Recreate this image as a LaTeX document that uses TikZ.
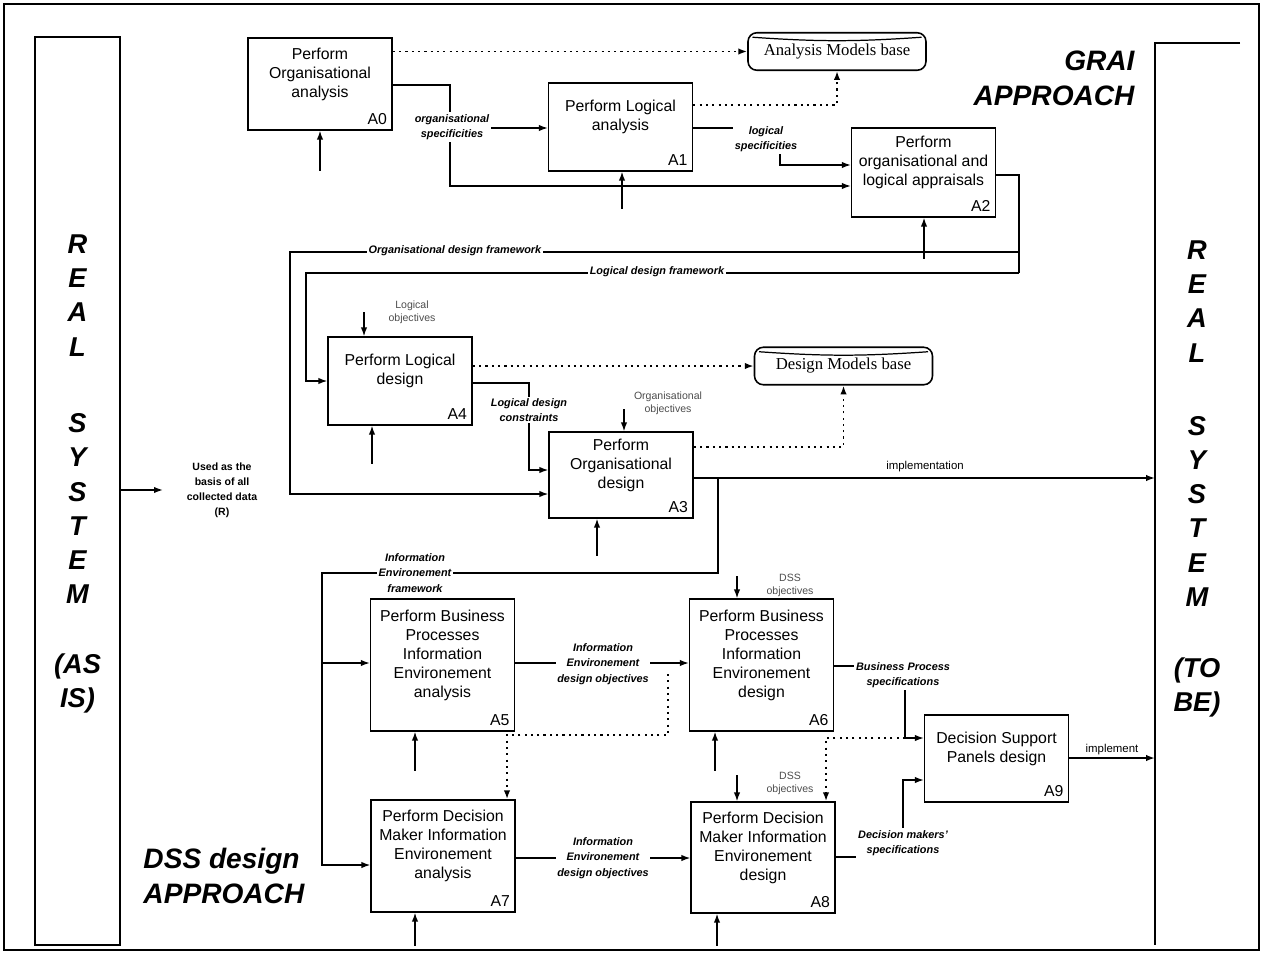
\documentclass[tikz,border=0pt]{standalone}
\usepackage{fontspec}
\setmainfont{Liberation Sans}
\newfontfamily\dbfont{Liberation Serif}
\usetikzlibrary{arrows.meta}

\begin{document}
\begin{tikzpicture}[x=0.02cm,y=-0.02cm,line width=0.7pt,
  >={Latex[length=5pt,width=3.6pt]},
  act/.style={draw,line width=0.9pt,align=center,minimum width=2.88cm,
    font=\fontsize{9}{10.8}\selectfont,text depth=13pt,inner sep=2pt},
  idx/.style={anchor=south east,inner sep=3pt,font=\fontsize{9}{10}\selectfont},
  dbase/.style={draw,line width=0.9pt,rounded corners=5pt,minimum width=3.56cm,
    minimum height=0.75cm,font=\dbfont\fontsize{9.5}{10}\selectfont},
  flab/.style={fill=white,inner sep=1pt,align=center,
    font=\fontsize{6.2}{8.8}\selectfont\bfseries\itshape},
  obj/.style={align=center,inner sep=1pt,text=black!70,
    font=\fontsize{6}{7.5}\selectfont},
  small/.style={inner sep=1pt,font=\fontsize{6.5}{8}\selectfont},
  big/.style={font=\fontsize{16}{19.8}\selectfont\bfseries\itshape},
  sys/.style={align=center,font=\fontsize{15.5}{19.5}\selectfont\bfseries\itshape},
  dot/.style={line width=1pt,dash pattern=on 1.2pt off 2.4pt}]
\useasboundingbox (0,0) rectangle (1263,953);
\draw[line width=1pt] (4,4) rectangle (1259,950);

% real system, as is / to be
\node[draw,line width=0.9pt,minimum width=1.7cm,minimum height=18.16cm] (asis) at (77.5,491) {};
\node[sys] (asistxt) at (77.5,474) {R\\E\\A\\L\\[24pt]S\\Y\\S\\T\\E\\M\\[20pt](AS\\IS)};
\coordinate (rsys) at (1155,43);
\draw[line width=0.9pt] (1240,43) -- (rsys) -- (1155,945);
\node[sys] (tobe) at (1197,479) {R\\E\\A\\L\\[22pt]S\\Y\\S\\T\\E\\M\\[21pt](TO\\BE)};
\node[big,align=right,anchor=east] (grai) at (1141,78) {GRAI\\APPROACH};
\node[big,align=left,anchor=west] (dss) at (137,876) {DSS design\\APPROACH};

% activities
\node[act,minimum height=1.84cm,label={[idx]south east:A0}] (A0) at (320,84) {Perform\\Organisational\\analysis};
\node[act,minimum height=1.76cm,label={[idx]south east:A1}] (A1) at (620.5,127) {Perform Logical\\analysis};
\node[act,minimum height=1.78cm,label={[idx]south east:A2}] (A2) at (923.5,172.5) {Perform\\organisational and\\logical appraisals};
\node[act,minimum height=1.76cm,label={[idx]south east:A4}] (A4) at (400,381) {Perform Logical\\design};
\node[act,minimum height=1.72cm,label={[idx]south east:A3}] (A3) at (621,475) {Perform\\Organisational\\design};
\node[act,minimum height=2.64cm,label={[idx]south east:A5}] (A5) at (442.5,665) {Perform Business\\Processes\\Information\\Environement\\analysis};
\node[act,minimum height=2.64cm,label={[idx]south east:A6}] (A6) at (761.5,665) {Perform Business\\Processes\\Information\\Environement\\design};
\node[act,minimum height=2.24cm,label={[idx]south east:A7}] (A7) at (443,856) {Perform Decision\\Maker Information\\Environement\\analysis};
\node[act,minimum height=2.22cm,label={[idx]south east:A8}] (A8) at (763,857.5) {Perform Decision\\Maker Information\\Environement\\design};
\node[act,minimum height=1.74cm,label={[idx]south east:A9}] (A9) at (996.5,758.5) {Decision Support\\Panels design};

% model bases
\node[dbase] (amb) at (837,51.5) {Analysis Models base};
\node[dbase] (dmb) at (843.5,366) {Design Models base};
\foreach \m in {amb,dmb}
  \draw ([shift={(3pt,-3pt)}]\m.north west) to[bend right=4] ([shift={(-3pt,-3pt)}]\m.north east);

% dotted links to the bases
\draw[dot,->] (A0.east |- amb) -- (amb);
\draw[dot,->] (A1.east |- 0,105) -| (amb.south);
\draw[dot,->] (A4.east |- dmb) -- (dmb);
\draw[dot,->] (A3.east |- 0,447) -| (dmb.south);

% GRAI flows
\draw[->] (A0.east |- 0,85) -| (450,186) -- (A2.west |- 0,186);
\draw[->] (450,128) -- (A1.west |- 0,128);
\node[flab] (ospec) at (452,127) {organisational\\specificities};
\draw[->] (A1.east |- 0,128) -| (780,165) -- (A2.west |- 0,165);
\node[flab] (lspec) at (766,139) {logical\\specificities};
\draw (A2.east |- 0,175) -| (1019,273);
\draw[->] (1019,252) -| (290,494) -- (A3.west |- 0,494);
\draw[->] (1019,273) -| (306,381) -- (A4.west |- 0,381);
\node[flab] (odf) at (455,251) {Organisational design framework};
\node[flab] (ldf) at (657,272) {Logical design framework};
\draw[->] (A4.east |- 0,383) -| (529,470) -- (A3.west |- 0,470);
\node[flab] (ldc) at (529,410) {Logical design\\constraints};

% controls and mechanisms
\foreach \b/\x/\l in {A4/364/24,A3/624/22,A6/737/22,A8/737/26}
  \draw[<-] (\b.north -| \x,0) -- ++(0,-\l);
\foreach \b/\x/\l in {A0/320/40,A1/622/37,A2/924/41,A4/372/38,A3/597/37,A5/415/39,A6/715/39,A7/415/33,A8/717/32}
  \draw[<-] (\b.south -| \x,0) -- ++(0,\l);
\node[obj] (lobj) at (412,312) {Logical\\objectives};
\node[obj] (oobj) at (668,403) {Organisational\\objectives};
\node[obj] (dobj) at (790,585) {DSS\\objectives};
\node[obj] (dobjb) at (790,783) {DSS\\objectives};

% as is input
\node[align=center,font=\fontsize{6}{8.5}\selectfont\bfseries] (used) at (222,490) {Used as the\\basis of all\\collected data\\(R)};
\draw[->] (asis.east |- used) -- ([xshift=-10pt]used.west);

% implementation and DSS flows
\draw[->,line width=1.6pt] (A3.east |- 0,478) -- (rsys |- 0,478);
\node[small] (impl) at (925,467) {implementation};
\draw[->] (718,478) |- (322,573) |- (A7.west |- 0,865);
\draw[->] (322,663) -- (A5.west |- 0,663);
\node[flab] (ief) at (415,573) {Information\\Environement\\framework};
\draw[->] (A5.east |- 0,663) -- (A6.west |- 0,663);
\node[flab] (iedo) at (603,664) {Information\\Environement\\design objectives};
\draw[->] (A7.east |- 0,858) -- (A8.west |- 0,858);
\node[flab] (iedob) at (603,858) {Information\\Environement\\design objectives};
\draw[dot,->] (668,674) |- (507,735) -- (A7.north -| 507,0);
\draw[->] (A6.east |- 0,666) -| (905,738) -- (A9.west |- 0,738);
\node[flab] (bps) at (903,675) {Business Process\\specifications};
\draw[dot,->] (905,738) -| (A8.north -| 826,0);
\draw[->] (A8.east |- 0,857) -| (903,780) -- (A9.west |- 0,780);
\node[flab] (dms) at (903,843) {Decision makers'\\specifications};
\draw[->,line width=1.2pt] (A9.east |- 0,758) -- (rsys |- 0,758);
\node[small] (impl2) at (1112,750) {implement};
\end{tikzpicture}
\end{document}
